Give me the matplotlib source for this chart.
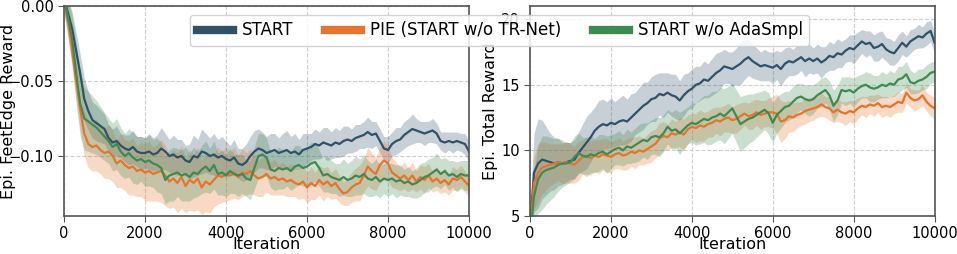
import numpy as np
import matplotlib
matplotlib.use("Agg")
import matplotlib.pyplot as plt
from matplotlib.lines import Line2D

iterations = list(range(0, 10001, 100))

labels = ["START", "PIE (START w/o TR-Net)", "START w/o AdaSmpl"]
colors = ["#2f5269", "#e8732a", "#3e8b52"]

# ---- Left panel: Epi. FeetEdge Reward ----
feet_start = [0.005, -0.005, -0.015, -0.030, -0.045, -0.062, -0.070, -0.076, -0.078, -0.080,
              -0.082, -0.088, -0.091, -0.090, -0.093, -0.095, -0.096, -0.094, -0.097, -0.098,
              -0.098, -0.097, -0.099, -0.098, -0.095, -0.097, -0.100, -0.099, -0.101, -0.100,
              -0.103, -0.104, -0.100, -0.101, -0.097, -0.098, -0.100, -0.099, -0.101, -0.100,
              -0.102, -0.103, -0.101, -0.105, -0.106, -0.104, -0.100, -0.097, -0.095, -0.096,
              -0.098, -0.097, -0.096, -0.098, -0.097, -0.096, -0.098, -0.097, -0.099, -0.096,
              -0.095, -0.094, -0.092, -0.093, -0.091, -0.092, -0.093, -0.091, -0.092, -0.090,
              -0.089, -0.090, -0.088, -0.087, -0.086, -0.084, -0.086, -0.085, -0.090, -0.095,
              -0.096, -0.092, -0.090, -0.089, -0.086, -0.084, -0.082, -0.083, -0.084, -0.085,
              -0.084, -0.083, -0.085, -0.090, -0.091, -0.090, -0.091, -0.090, -0.091, -0.092,
              -0.097]
feet_start_sd = [0.010, 0.010, 0.011, 0.012, 0.013, 0.014, 0.013, 0.012, 0.012, 0.011,
                 0.010, 0.009, 0.009, 0.010, 0.008, 0.009, 0.010, 0.011, 0.010, 0.011,
                 0.010, 0.012, 0.011, 0.012, 0.014, 0.012, 0.011, 0.013, 0.012, 0.011,
                 0.010, 0.012, 0.014, 0.012, 0.015, 0.013, 0.012, 0.014, 0.012, 0.013,
                 0.012, 0.010, 0.012, 0.010, 0.011, 0.012, 0.013, 0.014, 0.013, 0.012,
                 0.011, 0.012, 0.011, 0.010, 0.012, 0.013, 0.011, 0.012, 0.010, 0.011,
                 0.010, 0.009, 0.010, 0.009, 0.010, 0.011, 0.009, 0.010, 0.009, 0.010,
                 0.009, 0.008, 0.009, 0.008, 0.009, 0.010, 0.009, 0.008, 0.008, 0.008,
                 0.009, 0.008, 0.009, 0.008, 0.009, 0.009, 0.010, 0.008, 0.007, 0.008,
                 0.007, 0.008, 0.007, 0.006, 0.007, 0.006, 0.007, 0.006, 0.006, 0.007,
                 0.007]

feet_pie = [0.005, -0.010, -0.030, -0.050, -0.069, -0.085, -0.092, -0.094, -0.093, -0.096,
            -0.098, -0.097, -0.100, -0.105, -0.103, -0.106, -0.108, -0.107, -0.110, -0.109,
            -0.111, -0.110, -0.112, -0.111, -0.110, -0.113, -0.117, -0.115, -0.118, -0.114,
            -0.120, -0.116, -0.118, -0.115, -0.121, -0.117, -0.119, -0.116, -0.113, -0.114,
            -0.112, -0.113, -0.111, -0.114, -0.111, -0.112, -0.110, -0.113, -0.115, -0.114,
            -0.112, -0.115, -0.114, -0.116, -0.115, -0.117, -0.116, -0.118, -0.119, -0.117,
            -0.121, -0.118, -0.120, -0.116, -0.119, -0.117, -0.120, -0.118, -0.122, -0.125,
            -0.124, -0.121, -0.119, -0.118, -0.113, -0.107, -0.110, -0.112, -0.106, -0.103,
            -0.105, -0.111, -0.113, -0.115, -0.113, -0.116, -0.113, -0.117, -0.114, -0.116,
            -0.113, -0.117, -0.115, -0.118, -0.116, -0.119, -0.115, -0.116, -0.114, -0.117,
            -0.120]
feet_pie_sd = [0.010, 0.011, 0.012, 0.013, 0.014, 0.015, 0.016, 0.016, 0.017, 0.016,
               0.017, 0.018, 0.017, 0.016, 0.018, 0.017, 0.018, 0.019, 0.017, 0.018,
               0.019, 0.020, 0.018, 0.019, 0.021, 0.020, 0.018, 0.019, 0.020, 0.021,
               0.018, 0.020, 0.019, 0.021, 0.018, 0.020, 0.019, 0.018, 0.019, 0.017,
               0.018, 0.016, 0.017, 0.015, 0.016, 0.014, 0.015, 0.013, 0.012, 0.013,
               0.012, 0.011, 0.012, 0.010, 0.011, 0.010, 0.011, 0.009, 0.010, 0.011,
               0.010, 0.011, 0.009, 0.010, 0.011, 0.010, 0.009, 0.010, 0.009, 0.008,
               0.009, 0.010, 0.011, 0.012, 0.011, 0.013, 0.012, 0.011, 0.012, 0.013,
               0.012, 0.010, 0.009, 0.008, 0.009, 0.008, 0.009, 0.007, 0.008, 0.009,
               0.008, 0.007, 0.008, 0.007, 0.008, 0.007, 0.008, 0.007, 0.008, 0.007,
               0.007]

feet_ada = [0.005, -0.008, -0.022, -0.045, -0.065, -0.075, -0.077, -0.079, -0.081, -0.084,
            -0.087, -0.090, -0.094, -0.092, -0.097, -0.100, -0.098, -0.101, -0.103, -0.102,
            -0.104, -0.103, -0.105, -0.106, -0.108, -0.116, -0.113, -0.112, -0.111, -0.113,
            -0.112, -0.114, -0.111, -0.112, -0.109, -0.107, -0.110, -0.106, -0.112, -0.111,
            -0.113, -0.110, -0.112, -0.113, -0.112, -0.115, -0.116, -0.108, -0.100, -0.099,
            -0.101, -0.109, -0.110, -0.108, -0.109, -0.108, -0.110, -0.107, -0.106, -0.108,
            -0.107, -0.105, -0.104, -0.108, -0.113, -0.112, -0.114, -0.115, -0.116, -0.114,
            -0.116, -0.115, -0.113, -0.114, -0.112, -0.115, -0.116, -0.114, -0.117, -0.115,
            -0.116, -0.115, -0.117, -0.116, -0.118, -0.117, -0.119, -0.118, -0.116, -0.114,
            -0.113, -0.111, -0.109, -0.112, -0.110, -0.113, -0.112, -0.114, -0.112, -0.113,
            -0.113]
feet_ada_sd = [0.010, 0.013, 0.016, 0.020, 0.022, 0.021, 0.020, 0.019, 0.018, 0.017,
               0.016, 0.015, 0.016, 0.017, 0.016, 0.015, 0.016, 0.017, 0.016, 0.015,
               0.016, 0.017, 0.016, 0.018, 0.017, 0.016, 0.017, 0.018, 0.016, 0.017,
               0.018, 0.016, 0.017, 0.015, 0.016, 0.017, 0.015, 0.016, 0.014, 0.015,
               0.014, 0.015, 0.013, 0.014, 0.013, 0.012, 0.013, 0.014, 0.015, 0.014,
               0.013, 0.012, 0.013, 0.014, 0.013, 0.012, 0.013, 0.014, 0.013, 0.012,
               0.013, 0.014, 0.013, 0.012, 0.011, 0.012, 0.011, 0.010, 0.011, 0.012,
               0.011, 0.012, 0.013, 0.012, 0.013, 0.012, 0.011, 0.012, 0.011, 0.010,
               0.011, 0.010, 0.011, 0.010, 0.009, 0.010, 0.009, 0.010, 0.011, 0.010,
               0.011, 0.010, 0.011, 0.010, 0.009, 0.010, 0.009, 0.010, 0.009, 0.010,
               0.010]

# ---- Right panel: Epi. Total Reward ----
total_start = [4.0, 8.3, 9.0, 9.3, 9.2, 9.1, 9.0, 9.1, 9.0, 9.1,
               9.2, 9.3, 9.8, 10.2, 10.6, 11.0, 11.5, 11.8, 12.0, 11.9,
               12.1, 12.0, 12.2, 12.3, 12.2, 12.5, 12.8, 13.1, 13.4, 13.6,
               13.9, 14.0, 14.3, 14.2, 14.4, 14.2, 14.1, 13.8, 14.2, 14.5,
               14.7, 15.0, 15.1, 15.4, 15.3, 15.6, 15.9, 16.1, 16.4, 16.3,
               16.2, 16.4, 16.6, 16.9, 17.1, 16.8, 16.6, 16.4, 16.5, 16.4,
               16.3, 16.5, 16.2, 16.6, 16.8, 16.7, 16.9, 17.1, 16.8, 17.0,
               16.8, 17.0, 16.7, 16.9, 17.2, 17.1, 17.4, 17.3, 17.6, 17.8,
               17.7, 18.0, 18.3, 18.1, 18.2, 17.8, 17.9, 18.1, 17.7, 17.5,
               17.4, 17.8, 18.2, 17.9, 18.3, 18.5, 18.7, 18.6, 18.9, 19.1,
               18.2]
total_start_sd = [1.5, 3.0, 3.4, 3.0, 2.6, 2.2, 2.0, 1.8, 1.6, 1.5,
                  1.4, 1.5, 1.6, 1.8, 2.0, 1.9, 1.8, 2.0, 1.9, 1.8,
                  1.9, 1.7, 1.8, 1.9, 1.7, 1.8, 1.6, 1.7, 1.8, 1.6,
                  1.7, 1.8, 1.6, 1.7, 1.5, 1.6, 1.7, 1.5, 1.6, 1.4,
                  1.5, 1.4, 1.3, 1.4, 1.3, 1.4, 1.5, 1.4, 1.3, 1.2,
                  1.3, 1.4, 1.6, 1.5, 1.4, 1.3, 1.2, 1.1, 1.2, 1.1,
                  1.2, 1.1, 1.3, 1.2, 1.1, 1.0, 1.1, 1.0, 1.2, 1.1,
                  1.0, 1.1, 1.2, 1.0, 1.1, 1.0, 1.1, 1.0, 0.9, 1.0,
                  1.1, 1.0, 0.9, 1.0, 0.9, 1.0, 1.1, 1.0, 0.9, 1.0,
                  0.9, 1.0, 0.9, 0.8, 0.9, 0.8, 0.9, 0.8, 0.9, 0.8,
                  0.8]

total_pie = [4.0, 7.5, 8.3, 8.7, 8.8, 8.9, 9.0, 9.1, 9.0, 9.1,
             9.0, 8.9, 9.2, 9.5, 9.6, 9.4, 9.6, 9.5, 9.7, 9.6,
             9.5, 9.7, 9.8, 9.6, 9.7, 9.9, 9.8, 10.0, 9.9, 10.1,
             10.3, 10.5, 10.9, 11.1, 11.0, 11.3, 11.2, 11.4, 11.2, 11.6,
             11.8, 11.7, 11.9, 11.8, 12.0, 12.1, 12.3, 12.2, 12.4, 12.5,
             12.3, 12.4, 12.6, 12.8, 12.6, 12.7, 12.9, 12.7, 12.8, 12.9,
             12.9, 12.8, 12.2, 12.3, 12.6, 12.5, 12.7, 12.8, 13.0, 13.1,
             13.2, 13.3, 13.5, 13.3, 13.2, 12.9, 13.1, 12.9, 12.8, 13.0,
             12.9, 13.2, 13.4, 13.3, 13.5, 13.4, 13.6, 13.3, 13.4, 13.3,
             13.5, 13.7, 13.6, 14.4, 14.0, 13.8, 13.9, 14.2, 13.7, 13.4,
             13.2]
total_pie_sd = [1.0, 2.0, 2.2, 2.0, 1.8, 1.6, 1.5, 1.4, 1.5, 1.6,
                1.5, 1.4, 1.5, 1.3, 1.4, 1.3, 1.2, 1.3, 1.2, 1.3,
                1.2, 1.1, 1.2, 1.1, 1.2, 1.1, 1.2, 1.1, 1.0, 1.1,
                1.2, 1.1, 1.2, 1.1, 1.0, 1.1, 1.0, 1.1, 1.2, 1.1,
                1.0, 1.1, 1.2, 1.1, 1.0, 1.1, 1.0, 1.1, 1.0, 1.1,
                1.0, 1.1, 1.0, 0.9, 1.0, 1.1, 1.0, 1.1, 1.0, 1.1,
                1.2, 1.5, 1.6, 1.4, 1.2, 1.1, 1.0, 0.9, 1.0, 0.9,
                0.9, 0.8, 0.9, 0.8, 0.9, 0.8, 0.9, 0.8, 0.9, 0.8,
                0.9, 0.8, 0.7, 0.8, 0.7, 0.8, 0.7, 0.8, 0.7, 0.8,
                0.7, 0.8, 0.7, 0.8, 0.7, 0.8, 0.7, 0.8, 0.7, 0.8,
                0.8]

total_ada = [3.5, 6.5, 7.8, 8.3, 8.5, 8.6, 8.7, 8.9, 9.0, 9.0,
             9.1, 9.5, 9.8, 9.6, 9.5, 9.7, 9.6, 9.8, 9.9, 9.7,
             9.9, 10.1, 10.2, 10.0, 10.3, 10.2, 10.4, 10.6, 10.8, 10.7,
             11.0, 11.1, 11.0, 11.3, 11.8, 11.5, 11.6, 11.3, 11.6, 11.9,
             12.1, 12.0, 12.2, 12.4, 12.3, 12.5, 12.6, 12.8, 12.6, 12.9,
             13.2, 12.6, 12.0, 12.2, 12.4, 12.5, 12.7, 12.9, 13.1, 12.8,
             12.1, 12.7, 13.0, 13.3, 13.4, 13.7, 14.0, 14.1, 13.9, 13.8,
             13.9, 14.2, 14.4, 14.6, 14.2, 13.4, 13.8, 14.6, 14.5, 14.6,
             14.4, 14.7, 14.9, 15.0, 14.8, 14.7, 14.8, 15.0, 14.9, 15.1,
             15.0, 15.4, 15.5, 15.8, 15.2, 15.1, 15.3, 15.4, 15.6, 15.9,
             16.0]
total_ada_sd = [1.0, 2.0, 2.6, 2.8, 2.6, 2.4, 2.2, 2.0, 1.8, 1.6,
                1.5, 1.6, 1.5, 1.4, 1.5, 1.4, 1.3, 1.4, 1.3, 1.4,
                1.3, 1.2, 1.3, 1.2, 1.3, 1.2, 1.3, 1.4, 1.3, 1.4,
                1.3, 1.4, 1.5, 1.4, 1.3, 1.4, 1.5, 1.6, 1.5, 1.4,
                1.5, 1.6, 1.7, 1.8, 1.9, 2.0, 1.9, 2.0, 2.1, 2.0,
                1.9, 2.0, 2.1, 2.0, 1.9, 1.8, 1.7, 1.6, 1.5, 1.6,
                1.5, 1.4, 1.3, 1.2, 1.1, 1.2, 1.1, 1.0, 1.1, 1.2,
                1.1, 1.0, 1.1, 1.0, 1.1, 1.2, 1.1, 1.0, 1.1, 1.0,
                1.1, 1.0, 0.9, 1.0, 1.1, 1.0, 0.9, 1.0, 0.9, 1.0,
                0.9, 1.0, 0.9, 1.0, 0.9, 0.8, 0.9, 0.8, 0.9, 0.8,
                0.8]

fig = plt.figure(figsize=(9.57, 2.54), dpi=100)
ax1 = fig.add_axes([0.0669, 0.1496, 0.4232, 0.8268])
ax2 = fig.add_axes([0.5538, 0.1496, 0.4228, 0.8268])

x = np.array(iterations)
left_series = [(feet_start, feet_start_sd), (feet_pie, feet_pie_sd), (feet_ada, feet_ada_sd)]
right_series = [(total_start, total_start_sd), (total_pie, total_pie_sd), (total_ada, total_ada_sd)]

for ax, series in [(ax1, left_series), (ax2, right_series)]:
    for (m, s), c in zip(series, colors):
        m = np.array(m); s = np.array(s)
        ax.fill_between(x, m - s, m + s, color=c, alpha=0.27, linewidth=0)
    for (m, s), c, lab in zip(series, colors, labels):
        ax.plot(x, m, color=c, lw=1.6, label=lab)
    ax.grid(True, linestyle="--", color="#d0d0d0", linewidth=0.8)
    ax.set_axisbelow(True)
    ax.set_xlim(0, 10000)
    ax.set_xticks([0, 2000, 4000, 6000, 8000, 10000])
    ax.set_xlabel("Iteration", fontsize=11.5, labelpad=-3)
    ax.tick_params(labelsize=10.5, length=4, color="#555555")
    for sp in ax.spines.values():
        sp.set_color("#555555")
        sp.set_linewidth(1.2)

ax1.set_ylim(-0.14, 0.0)
ax1.set_yticks([-0.10, -0.05, 0.00])
ax1.set_yticklabels(["\u22120.10", "\u22120.05", "0.00"])
ax1.set_ylabel("Epi. FeetEdge Reward", fontsize=11.5)
ax1.yaxis.set_label_coords(-0.118, 0.5)

ax2.set_ylim(5, 21)
ax2.set_yticks([5, 10, 15, 20])
ax2.set_ylabel("Epi. Total Reward", fontsize=11.5)
ax2.yaxis.set_label_coords(-0.078, 0.5)

leg_handles = [Line2D([0], [0], color=c, lw=6) for c in colors]
fig.legend(leg_handles, labels, loc="upper center", bbox_to_anchor=(0.522, 0.975),
           ncol=3, fontsize=12, frameon=True, handlelength=2.2, columnspacing=1.9,
           borderpad=0.4, handletextpad=0.5, fancybox=True, framealpha=0.85,
           edgecolor="#cccccc")

fig.savefig("out.png", dpi=100)
